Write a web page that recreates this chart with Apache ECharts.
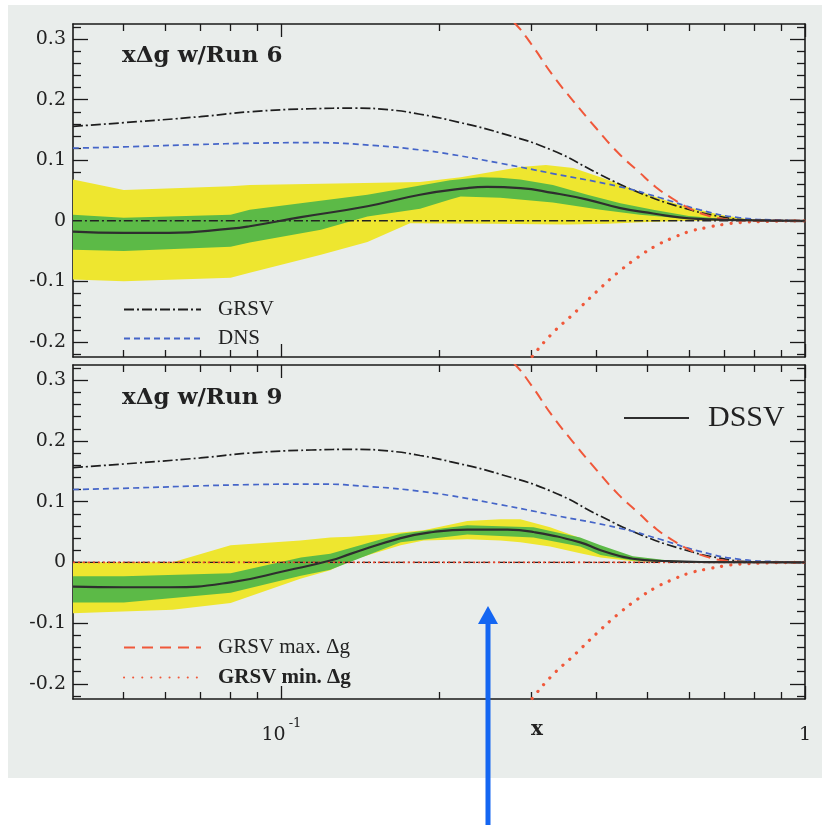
<!DOCTYPE html>
<html>
<head>
<meta charset="utf-8">
<title>xΔg w/Run 6 / Run 9</title>
<script src="https://cdn.jsdelivr.net/npm/echarts@6/dist/echarts.min.js"></script>
<style>
html, body { margin: 0; padding: 0; background: #fff; }
#chart { width: 825px; height: 825px; }
</style>
</head>
<body>
<div id="chart"></div>
<script>
// --- theory curves (same in both panels) ---
const xGrsv = [0.04, 0.05, 0.07, 0.087, 0.114, 0.138, 0.162, 0.184, 0.21, 0.262, 0.33, 0.407, 0.484, 0.577, 0.688, 0.795, 1];
const grsv  = [0.156, 0.162, 0.172, 0.180, 0.185, 0.186, 0.183, 0.176, 0.166, 0.145, 0.116, 0.076, 0.046, 0.023, 0.007, 0.001, 0];

const xDns = [0.04, 0.05, 0.07, 0.087, 0.114, 0.152, 0.184, 0.21, 0.262, 0.33, 0.444, 0.529, 0.63, 0.751, 0.896, 1];
const dns  = [0.120, 0.122, 0.126, 0.128, 0.129, 0.124, 0.117, 0.110, 0.095, 0.078, 0.056, 0.038, 0.018, 0.005, 0.001, 0];

const xMax = [0.25, 0.26, 0.28, 0.30, 0.33, 0.36, 0.40, 0.44, 0.48, 0.52, 0.56, 0.60, 0.65, 0.70, 0.75, 0.8, 1];
const grsvMax = [0.372, 0.35, 0.325, 0.292, 0.24, 0.199, 0.152, 0.112, 0.082, 0.055, 0.036, 0.021, 0.009, 0.003, 0.001, 0, 0];

const xMin = [0.28, 0.30, 0.33, 0.36, 0.40, 0.44, 0.48, 0.52, 0.56, 0.60, 0.65, 0.70, 0.75, 0.85, 1];
const grsvMin = [-0.26, -0.226, -0.185, -0.155, -0.117, -0.085, -0.06, -0.041, -0.028, -0.018, -0.011, -0.006, -0.003, -0.001, 0];

const zeroX = [0.04, 1];
const zeroY = [0, 0];

// --- Run 6 (top panel) DSSV and uncertainty bands ---
const xDssv6 = [0.04, 0.05, 0.061, 0.08, 0.087, 0.109, 0.146, 0.184, 0.2265, 0.247, 0.286, 0.33, 0.384, 0.444, 0.513, 0.6, 0.75, 1];
const dssv6  = [-0.018, -0.02, -0.02, -0.013, -0.009, 0.006, 0.024, 0.043, 0.054, 0.056, 0.054, 0.046, 0.035, 0.021, 0.012, 0.004, 0.001, 0];

const xYel6Hi = [0.04, 0.05, 0.08, 0.087, 0.1355, 0.184, 0.22, 0.286, 0.32, 0.361, 0.407, 0.484, 0.577, 0.688, 0.786, 1];
const yel6Hi  = [0.068, 0.051, 0.057, 0.059, 0.062, 0.064, 0.072, 0.089, 0.092, 0.087, 0.072, 0.048, 0.026, 0.010, 0.002, 0];
const xYel6Lo = [0.04, 0.05, 0.08, 0.087, 0.119, 0.146, 0.176, 0.25, 0.35, 0.42, 0.5, 0.6, 1];
const yel6Lo  = [-0.097, -0.1, -0.094, -0.086, -0.056, -0.035, -0.004, -0.005, -0.006, -0.005, -0.002, 0, 0];

const xGrn6Hi = [0.04, 0.05, 0.08, 0.087, 0.146, 0.21, 0.24, 0.262, 0.286, 0.33, 0.384, 0.444, 0.513, 0.6, 0.72, 1];
const grn6Hi  = [0.01, 0.005, 0.01, 0.018, 0.043, 0.067, 0.072, 0.071, 0.068, 0.059, 0.043, 0.029, 0.018, 0.008, 0.002, 0];
const xGrn6Lo = [0.04, 0.05, 0.08, 0.087, 0.119, 0.146, 0.184, 0.21, 0.22, 0.262, 0.33, 0.407, 0.484, 0.577, 0.688, 1];
const grn6Lo  = [-0.048, -0.05, -0.043, -0.036, -0.015, 0.007, 0.02, 0.035, 0.04, 0.038, 0.03, 0.018, 0.01, 0.004, 0.001, 0];

// --- Run 9 (bottom panel) ---
const xDssv9 = [0.04, 0.05, 0.061, 0.08, 0.103, 0.124, 0.1355, 0.169, 0.195, 0.2265, 0.27, 0.303, 0.372, 0.407, 0.469, 0.546, 0.65, 1];
const dssv9  = [-0.04, -0.041, -0.041, -0.033, -0.013, 0.003, 0.014, 0.04, 0.05, 0.054, 0.054, 0.05, 0.033, 0.02, 0.006, 0.002, 0.0005, 0];

const xGrn9 = [0.04, 0.05, 0.08, 0.109, 0.124, 0.169, 0.2265, 0.303, 0.372, 0.407, 0.469, 0.55, 0.7, 1];
const grn9Hi = [-0.023, -0.023, -0.018, 0.008, 0.014, 0.047, 0.061, 0.058, 0.041, 0.028, 0.010, 0.003, 0, 0];
const grn9Lo = [-0.066, -0.066, -0.05, -0.022, -0.012, 0.033, 0.046, 0.041, 0.026, 0.012, 0.003, 0.001, 0, 0];

const xYel9 = [0.04, 0.062, 0.08, 0.1087, 0.124, 0.1355, 0.169, 0.187, 0.2265, 0.262, 0.286, 0.326, 0.372, 0.407, 0.469, 0.55, 0.7, 1];
const yel9Hi = [0.0, 0.0, 0.028, 0.036, 0.041, 0.042, 0.049, 0.053, 0.068, 0.071, 0.071, 0.058, 0.040, 0.024, 0.009, 0.002, 0, 0];
const yel9Lo = [-0.084, -0.078, -0.067, -0.027, -0.013, 0.003, 0.028, 0.036, 0.038, 0.036, 0.033, 0.026, 0.015, 0.008, 0.002, 0.0005, 0, 0];

// --- ticks ---
const xMajor = [0.1, 1];
const xMinor = [0.05, 0.06, 0.07, 0.08, 0.09, 0.2, 0.3, 0.4, 0.5, 0.6, 0.7, 0.8, 0.9];
const yMajor = [-0.2, -0.1, 0, 0.1, 0.2, 0.3];
const yMinor = [-0.22, -0.18, -0.16, -0.14, -0.12, -0.08, -0.06, -0.04, -0.02, 0.02, 0.04, 0.06, 0.08,
                0.12, 0.14, 0.16, 0.18, 0.22, 0.24, 0.26, 0.28, 0.32];

const YMIN = -0.225, YMAX = 0.325;
const AX = '#1a1a1a';
const SERIF = 'DejaVu Serif';
const TIMES = 'Liberation Serif';
const lx = v => Math.log10(v);
const pts = (xs, ys) => xs.map((x, i) => [lx(x), ys[i]]);

function xAxesFor(gi, withLabels) {
    const tick = (vals, len) => ({ inside: true, length: len, customValues: vals.map(lx), lineStyle: { color: AX, width: 1.3 } });
    const base = {
        type: 'value', gridIndex: gi, min: lx(0.04), max: 0,
        splitLine: { show: false },
        axisLine: { onZero: false, lineStyle: { color: AX, width: 1.6 } },
        axisLabel: { show: false }
    };
    const minorLine = { show: false, onZero: false };
    const label = withLabels ? {
        show: true, margin: 18, customValues: xMajor.map(lx),
        formatter: v => Math.abs(v) < 1e-6 ? '{n|1}' : '{n|10}{s|-1}',
        rich: {
            n: { fontFamily: SERIF, fontSize: 19, color: '#222', lineHeight: 28, verticalAlign: 'bottom' },
            s: { fontFamily: SERIF, fontSize: 13, color: '#222', lineHeight: 28, verticalAlign: 'top', padding: [0, 0, 0, 3] }
        }
    } : { show: false };
    return [
        { ...base, position: 'bottom', axisTick: tick(xMajor, 13), axisLabel: label },
        { ...base, position: 'bottom', axisLine: minorLine, axisTick: tick(xMinor, 7) },
        { ...base, position: 'top', axisTick: tick(xMajor, 13) },
        { ...base, position: 'top', axisLine: minorLine, axisTick: tick(xMinor, 7) }
    ];
}

function yAxesFor(gi) {
    const tick = (vals, len) => ({ inside: true, length: len, customValues: vals, lineStyle: { color: AX, width: 1.3 } });
    const base = {
        type: 'value', gridIndex: gi, min: YMIN, max: YMAX,
        splitLine: { show: false },
        axisLine: { onZero: false, lineStyle: { color: AX, width: 1.6 } },
        axisLabel: { show: false }
    };
    const minorLine = { show: false, onZero: false };
    return [
        {
            ...base, position: 'left', axisTick: tick(yMajor, 15),
            axisLabel: {
                show: true, margin: 7, customValues: yMajor,
                formatter: v => Math.abs(v) < 1e-9 ? '0' : v.toFixed(1),
                fontFamily: SERIF, fontSize: 19, color: '#222'
            }
        },
        { ...base, position: 'left', axisLine: minorLine, axisTick: tick(yMinor, 8) },
        { ...base, position: 'right', axisTick: tick(yMajor, 15) },
        { ...base, position: 'right', axisLine: minorLine, axisTick: tick(yMinor, 8) }
    ];
}

function band(gi, xHi, hi, xLo, lo, color) {
    return {
        type: 'custom', xAxisIndex: gi * 4, yAxisIndex: gi * 4, silent: true, z: 1,
        data: [[lx(0.1), 0]],
        renderItem: (params, api) => {
            const poly = [];
            xHi.forEach((x, i) => poly.push(api.coord([lx(x), hi[i]])));
            for (let i = xLo.length - 1; i >= 0; i--) poly.push(api.coord([lx(xLo[i]), lo[i]]));
            return { type: 'polygon', shape: { points: poly }, style: { fill: color } };
        }
    };
}

const grsvStyle = { color: '#1e1e1e', width: 1.7, type: [10, 3, 2, 3] };
const dnsStyle = { color: '#4565c8', width: 1.7, type: [6, 4] };
const maxStyle = { color: '#f0583a', width: 2, type: [11, 7] };
const minStyle = { color: '#f0583a', width: 3.2, type: [0.1, 9], cap: 'round' };
const dssvStyle = { color: '#2e2e2e', width: 2.2 };

function lineSeries(gi, name, xs, ys, style, z) {
    return {
        type: 'line', name, xAxisIndex: gi * 4, yAxisIndex: gi * 4,
        data: pts(xs, ys), showSymbol: false, symbol: 'none',
        smooth: 0.5, lineStyle: style, itemStyle: { color: style.color },
        silent: true, z: z || 3
    };
}

function panelSeries(gi, yel, grn, dssvX, dssvY) {
    const out = [
        band(gi, yel[0], yel[1], yel[2], yel[3], '#eee62f'),
        band(gi, grn[0], grn[1], grn[2], grn[3], '#5cba47'),
        lineSeries(gi, '', zeroX, zeroY, { color: '#222', width: 1.3, type: [9, 3, 2, 3] }, 2)
    ];
    if (gi === 1) out.push(lineSeries(gi, '', zeroX, zeroY, { color: '#f0452c', width: 1.6, type: [2, 3] }, 2));
    out.push(
        lineSeries(gi, 'GRSV', xGrsv, grsv, grsvStyle),
        lineSeries(gi, 'DNS', xDns, dns, dnsStyle),
        lineSeries(gi, 'GRSV max. Δg', xMax, grsvMax, maxStyle),
        lineSeries(gi, 'GRSV min. Δg', xMin, grsvMin, minStyle),
        lineSeries(gi, 'DSSV', dssvX, dssvY, dssvStyle, 4)
    );
    return out;
}

const legendBase = {
    orient: 'vertical', padding: 0, itemWidth: 77, itemHeight: 14, itemGap: 8,
    selectedMode: false,
    itemStyle: { opacity: 0 },
    textStyle: { fontFamily: TIMES, fontSize: 21, color: '#222', padding: [0, 0, 0, 12] }
};

const chart = echarts.init(document.getElementById('chart'));
chart.setOption({
    animation: false,
    backgroundColor: '#ffffff',
    title: [
        { text: 'xΔg w/Run 6', left: 122, top: 45, padding: 0,
          textStyle: { fontFamily: SERIF, fontWeight: 'bold', fontSize: 23, color: '#222' } },
        { text: 'xΔg w/Run 9', left: 122, top: 387, padding: 0,
          textStyle: { fontFamily: SERIF, fontWeight: 'bold', fontSize: 23, color: '#222' } },
        { text: 'x', left: 531, top: 720, padding: 0,
          textStyle: { fontFamily: SERIF, fontWeight: 'bold', fontSize: 20, color: '#222' } }
    ],
    legend: [
        { ...legendBase, data: ['GRSV', 'DNS'], left: 123, top: 299 },
        { ...legendBase, data: ['GRSV max. Δg', { name: 'GRSV min. Δg', textStyle: { fontWeight: 'bold' } }], left: 123, top: 637, itemGap: 9 },
        { ...legendBase, data: ['DSSV'], left: 623, top: 403, itemWidth: 65,
          textStyle: { fontFamily: TIMES, fontSize: 30, color: '#222', padding: [0, 0, 0, 14] } }
    ],
    graphic: [
        { type: 'rect', left: 8, top: 5, z: -10, silent: true, shape: { width: 814, height: 773 }, style: { fill: '#e9edeb' } },
        { type: 'rect', z: 100, silent: true, shape: { x: 485.5, y: 620, width: 5, height: 205 }, style: { fill: '#1466f2' } },
        { type: 'polygon', z: 100, silent: true, shape: { points: [[488, 606], [478, 624], [498, 624]] }, style: { fill: '#1466f2' } }
    ],
    grid: [
        { left: 73, top: 24, width: 732, height: 333 },
        { left: 73, top: 365, width: 732, height: 334 }
    ],
    xAxis: [...xAxesFor(0, false), ...xAxesFor(1, true)],
    yAxis: [...yAxesFor(0), ...yAxesFor(1)],
    series: [
        ...panelSeries(0, [xYel6Hi, yel6Hi, xYel6Lo, yel6Lo], [xGrn6Hi, grn6Hi, xGrn6Lo, grn6Lo], xDssv6, dssv6),
        ...panelSeries(1, [xYel9, yel9Hi, xYel9, yel9Lo], [xGrn9, grn9Hi, xGrn9, grn9Lo], xDssv9, dssv9)
    ]
});
window.addEventListener('resize', function() {
    chart.resize();
});
</script>
</body>
</html>
